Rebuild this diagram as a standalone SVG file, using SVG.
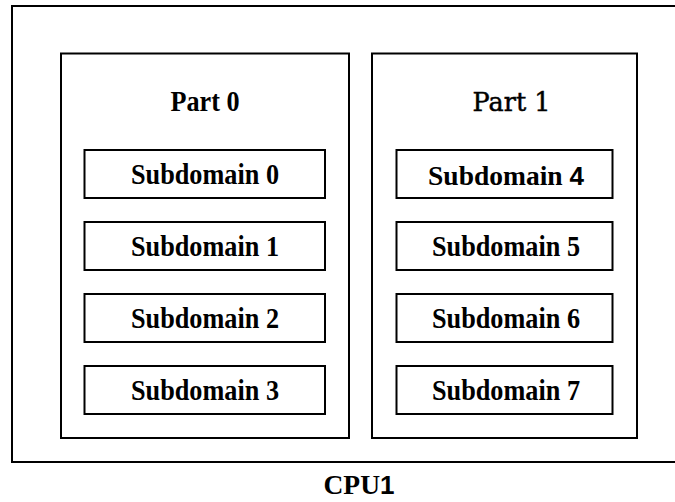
<svg xmlns="http://www.w3.org/2000/svg" width="675" height="502" viewBox="0 0 675 502">
<style>
.box{fill:none;stroke:#000;stroke-width:2}
.t{font-family:"Liberation Serif","Times New Roman",serif;font-weight:bold;font-size:29px;fill:#000;text-anchor:middle}
.m{font-family:"Liberation Serif","Times New Roman",serif;font-weight:bold;font-size:27.5px;fill:#000;text-anchor:middle}
.s{font-family:"Liberation Sans",Arial,sans-serif;font-weight:bold;font-size:26px}
.c{font-family:"DejaVu Serif","Liberation Serif",serif;font-weight:normal;font-size:26px;fill:#000;stroke:#000;stroke-width:0.5;text-anchor:middle}
</style>
<rect width="675" height="502" fill="#fff"/>
<g id="cpu1">
<rect class="box" x="12" y="6" width="690" height="456"/>
<text class="m" x="359" y="494">CPU<tspan class="s">1</tspan></text>
</g>
<g id="part0">
<rect class="box" x="61" y="53.5" width="288" height="384.5"/>
<text class="t" x="205" y="111" textLength="69" lengthAdjust="spacingAndGlyphs">Part 0</text>
</g>
<g id="part1">
<rect class="box" x="372" y="53.5" width="265" height="384.5"/>
<text class="c" x="511.5" y="111" textLength="78" lengthAdjust="spacingAndGlyphs">Part 1</text>
</g>
<g id="sub0"><rect class="box" x="84.5" y="150" width="240.5" height="48"/><text class="t" x="205" y="184" textLength="148" lengthAdjust="spacingAndGlyphs">Subdomain 0</text></g>
<g id="sub1"><rect class="box" x="84.5" y="222" width="240.5" height="48"/><text class="t" x="205" y="256" textLength="148" lengthAdjust="spacingAndGlyphs">Subdomain 1</text></g>
<g id="sub2"><rect class="box" x="84.5" y="294" width="240.5" height="48"/><text class="t" x="205" y="328" textLength="148" lengthAdjust="spacingAndGlyphs">Subdomain 2</text></g>
<g id="sub3"><rect class="box" x="84.5" y="366" width="240.5" height="48"/><text class="t" x="205" y="400" textLength="148" lengthAdjust="spacingAndGlyphs">Subdomain 3</text></g>
<g id="sub4"><rect class="box" x="396.5" y="150" width="216" height="48"/><text class="m" x="506" y="185">Subdomain <tspan class="s">4</tspan></text></g>
<g id="sub5"><rect class="box" x="396.5" y="222" width="216" height="48"/><text class="t" x="506" y="256" textLength="148" lengthAdjust="spacingAndGlyphs">Subdomain 5</text></g>
<g id="sub6"><rect class="box" x="396.5" y="294" width="216" height="48"/><text class="t" x="506" y="328" textLength="148" lengthAdjust="spacingAndGlyphs">Subdomain 6</text></g>
<g id="sub7"><rect class="box" x="396.5" y="366" width="216" height="48"/><text class="t" x="506" y="400" textLength="148" lengthAdjust="spacingAndGlyphs">Subdomain 7</text></g>
<g id="connectors"></g>
</svg>
